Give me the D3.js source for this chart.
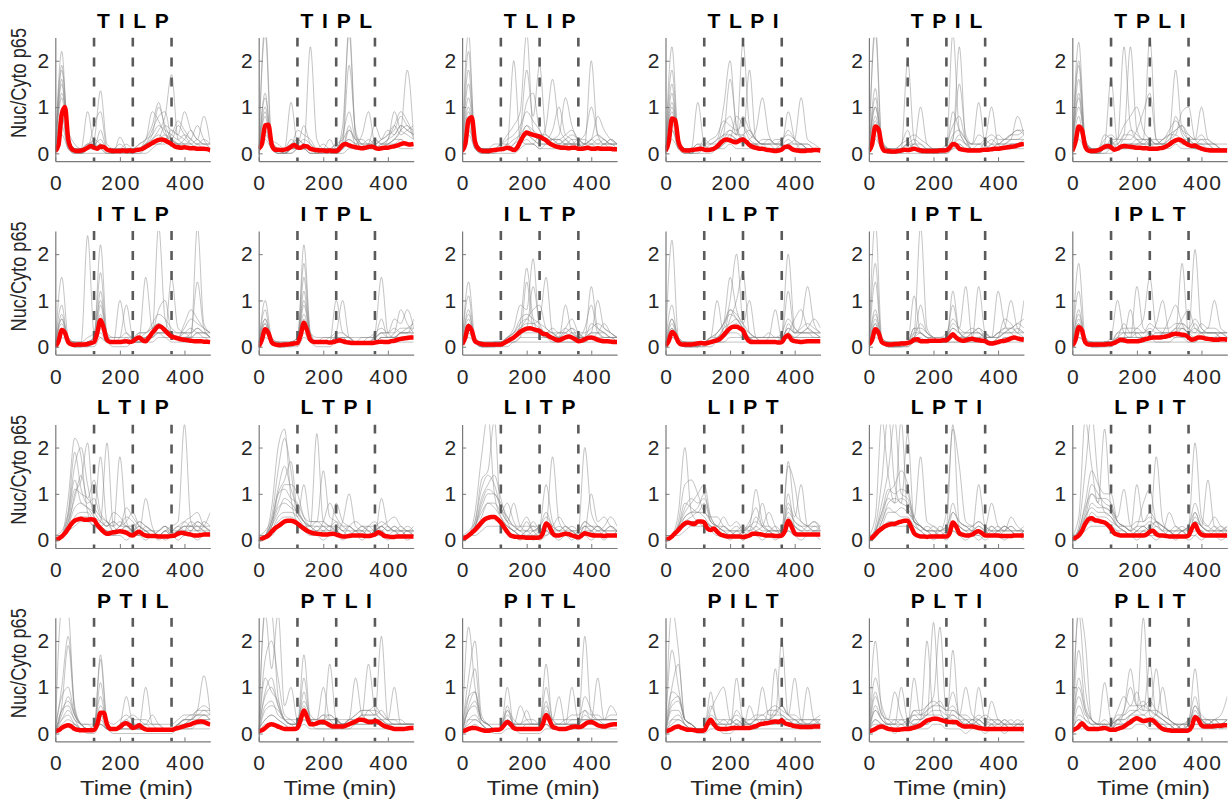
<!DOCTYPE html>
<html><head><meta charset="utf-8">
<script src="https://cdn.jsdelivr.net/npm/d3@7"></script>
<style>body{margin:0;background:#fff}svg{display:block}</style>
</head><body><svg id="chart" width="1230" height="807"></svg>
<script>
// Stimulus orders (T = TNF, I = IL-1, L = LPS, P = Pam) shown one per panel
const orders = ["TILP","TIPL","TLIP","TLPI","TPIL","TPLI",
                "ITLP","ITPL","ILTP","ILPT","IPTL","IPLT",
                "LTIP","LTPI","LITP","LIPT","LPTI","LPIT",
                "PTIL","PTLI","PITL","PILT","PLTI","PLIT"];
const stimTimes = [120, 240, 360];          // dashed lines: next ligand added
const xTicks = [0, 200, 400];
const yTicks = [0, 1, 2];
const meanStep = 10;                          // min between population-mean samples
const cellStep = 20;                          // min between single-cell samples

// Population means (red), t = 0..480 min every 10 min
const TILP_mean=[.05,.18,.85,1.0,.3,.1,.06,.05,.06,.08, .12,.16,.12,.1,.15,.14,.08,.06,.05,.05, .05,.06,.05,.06,.05,.07,.08,.1,.14,.18, .22,.26,.29,.3,.28,.24,.2,.15,.13,.12, .13,.12,.11,.11,.1,.1,.1,.09,.07];
const TIPL_mean=[.1,.2,.6,.62,.2,.08,.08,.07,.08,.1, .14,.18,.13,.12,.16,.15,.1,.08,.07,.06, .06,.05,.06,.05,.05,.1,.18,.2,.17,.15, .13,.12,.11,.12,.14,.15,.12,.1,.11,.12, .12,.14,.15,.17,.2,.22,.2,.19,.2];
const TLIP_mean=[.05,.2,.72,.78,.25,.1,.06,.05,.05,.06, .07,.08,.09,.1,.12,.1,.07,.12,.25,.38, .45,.42,.4,.38,.36,.32,.28,.22,.18,.15, .13,.12,.12,.11,.12,.12,.1,.1,.11,.12, .1,.1,.11,.1,.1,.1,.1,.09,.09];
const TLPI_mean=[.05,.25,.75,.72,.25,.1,.06,.06,.07,.08, .09,.1,.08,.07,.08,.1,.15,.22,.28,.3, .28,.25,.24,.28,.3,.25,.18,.14,.12,.1, .1,.08,.07,.06,.05,.06,.08,.14,.15,.1, .07,.06,.05,.05,.06,.06,.07,.07,.06];
const TPIL_mean=[.05,.2,.58,.52,.15,.05,.05,.04,.04,.05, .06,.08,.07,.08,.1,.08,.06,.05,.05,.05, .05,.05,.06,.06,.07,.12,.2,.18,.1,.08, .07,.06,.06,.06,.06,.07,.08,.08,.09,.1, .1,.11,.12,.13,.14,.15,.17,.19,.2];
const TPLI_mean=[.05,.25,.58,.5,.15,.06,.05,.05,.07,.1, .14,.16,.13,.08,.1,.14,.16,.15,.14,.13, .12,.12,.11,.11,.1,.1,.1,.11,.12,.15, .19,.24,.28,.3,.27,.22,.18,.16,.17,.13, .1,.08,.07,.06,.06,.06,.06,.06,.06];
const ITLP_mean=[0,.12,.36,.3,.1,.05,.04,.05,.05,.05, .06,.08,.1,.3,.58,.4,.15,.1,.1,.1, .1,.11,.12,.1,.12,.17,.2,.14,.12,.2, .3,.38,.45,.42,.35,.28,.22,.2,.18,.16, .15,.14,.13,.12,.12,.12,.11,.11,.1];
const ITPL_mean=[0,.15,.38,.3,.1,.05,.04,.04,.05,.05, .06,.07,.08,.25,.52,.35,.15,.1,.1,.1, .1,.1,.09,.1,.12,.14,.12,.1,.09,.08, .08,.08,.08,.08,.08,.08,.09,.1,.11,.1, .1,.12,.13,.15,.17,.18,.19,.2,.2];
const ILTP_mean=[.05,.2,.45,.35,.12,.08,.06,.05,.05,.05, .05,.05,.05,.08,.12,.16,.2,.26,.32,.36, .39,.4,.38,.36,.34,.28,.27,.22,.19,.15, .14,.17,.2,.22,.2,.16,.12,.13,.16,.19, .2,.18,.15,.13,.12,.12,.11,.1,.1];
const ILPT_mean=[.02,.12,.32,.25,.1,.05,.05,.05,.05,.06, .07,.08,.07,.08,.1,.12,.14,.18,.25,.33, .4,.43,.43,.4,.35,.2,.12,.1,.1,.1, .1,.1,.1,.1,.1,.09,.1,.2,.25,.15, .12,.11,.1,.11,.12,.12,.12,.12,.12];
const IPTL_mean=[.05,.15,.38,.3,.1,.06,.05,.05,.06,.06, .07,.07,.08,.1,.15,.16,.12,.12,.12,.13, .13,.13,.13,.14,.14,.2,.27,.2,.15,.13, .14,.16,.17,.15,.14,.13,.12,.08,.07,.08, .1,.12,.13,.15,.18,.2,.18,.16,.15];
const IPLT_mean=[.02,.15,.42,.35,.1,.05,.05,.05,.05,.05, .05,.06,.06,.08,.12,.15,.14,.12,.12,.12, .12,.13,.15,.17,.19,.2,.2,.2,.21,.22, .24,.27,.28,.27,.26,.25,.2,.15,.17,.2, .2,.18,.17,.16,.15,.15,.16,.16,.15];
const LTIP_mean=[.02,.03,.08,.15,.25,.35,.42,.45,.46,.44, .44,.45,.44,.33,.25,.18,.14,.15,.17,.18, .19,.18,.16,.12,.1,.15,.18,.13,.1,.09, .09,.09,.08,.08,.08,.08,.09,.1,.14,.16, .15,.13,.12,.1,.1,.11,.12,.12,.12];
const LTPI_mean=[.02,.03,.06,.1,.18,.25,.3,.35,.4,.42, .42,.4,.36,.3,.25,.2,.17,.15,.14,.13, .12,.12,.13,.14,.12,.1,.08,.08,.09,.1, .1,.1,.1,.09,.09,.1,.12,.17,.14,.09, .08,.07,.07,.08,.08,.08,.08,.08,.08];
const LITP_mean=[.02,.05,.1,.16,.22,.3,.38,.45,.48,.5, .5,.45,.38,.28,.18,.1,.08,.07,.06,.06, .05,.05,.05,.05,.06,.15,.36,.3,.15,.1, .1,.12,.14,.13,.1,.08,.06,.1,.15,.13, .11,.1,.1,.1,.09,.1,.1,.1,.1];
const LIPT_mean=[.02,.03,.08,.15,.22,.3,.36,.38,.36,.35, .4,.4,.38,.25,.22,.25,.18,.12,.1,.08, .08,.08,.08,.08,.07,.08,.1,.14,.14,.13, .12,.1,.1,.1,.09,.09,.1,.2,.42,.3, .15,.12,.12,.12,.12,.12,.12,.12,.12];
const LPTI_mean=[.02,.05,.12,.2,.25,.3,.33,.35,.35,.38, .4,.42,.42,.3,.15,.1,.08,.08,.07,.08, .08,.08,.08,.08,.08,.15,.38,.3,.15,.12, .1,.1,.12,.17,.19,.15,.1,.1,.1,.1, .1,.09,.09,.09,.09,.1,.1,.1,.1];
const LPIT_mean=[.02,.05,.1,.2,.35,.45,.47,.43,.42,.4, .38,.33,.25,.15,.12,.1,.1,.1,.1,.1, .1,.1,.1,.12,.18,.2,.13,.1,.1,.09, .08,.08,.08,.08,.08,.08,.1,.25,.35,.2, .12,.1,.1,.1,.1,.1,.1,.1,.1];
const PTIL_mean=[.05,.07,.12,.16,.18,.15,.1,.08,.07,.07, .07,.07,.08,.2,.45,.45,.2,.1,.1,.1, .14,.2,.22,.18,.12,.14,.18,.12,.09,.08, .08,.08,.08,.08,.08,.08,.08,.1,.12,.14, .16,.18,.2,.23,.25,.26,.25,.22,.19];
const PTLI_mean=[.05,.07,.12,.18,.2,.18,.15,.12,.1,.1, .1,.1,.12,.3,.5,.35,.2,.2,.22,.25, .25,.22,.18,.15,.15,.15,.15,.17,.2,.23, .26,.3,.3,.28,.25,.25,.27,.25,.2,.16, .14,.12,.1,.1,.1,.1,.11,.12,.12];
const PITL_mean=[.05,.07,.1,.12,.12,.1,.08,.06,.06,.07, .08,.08,.1,.18,.25,.2,.12,.1,.1,.1, .1,.1,.1,.1,.1,.2,.4,.3,.15,.12, .1,.1,.1,.12,.14,.15,.14,.15,.2,.24, .25,.22,.18,.16,.15,.17,.19,.2,.2];
const PILT_mean=[.05,.07,.1,.14,.15,.12,.1,.08,.08,.07, .06,.06,.07,.2,.3,.2,.12,.1,.1,.1, .11,.12,.12,.12,.12,.12,.12,.14,.16,.19, .21,.22,.23,.25,.26,.25,.28,.22,.2,.18, .16,.15,.14,.14,.14,.14,.15,.15,.15];
const PLTI_mean=[.05,.07,.1,.14,.15,.13,.1,.09,.08,.08, .09,.1,.1,.11,.13,.15,.18,.23,.28,.3, .32,.32,.3,.28,.26,.25,.25,.25,.2,.16, .15,.15,.15,.14,.12,.11,.1,.1,.1,.1, .1,.1,.1,.1,.1,.1,.1,.1,.1];
const PLIT_mean=[.07,.1,.15,.22,.15,.1,.1,.1,.1,.11, .12,.1,.08,.08,.1,.12,.15,.2,.25,.3, .33,.3,.27,.28,.3,.28,.22,.15,.1,.08, .07,.06,.06,.06,.06,.06,.07,.15,.35,.3, .18,.15,.15,.15,.16,.17,.17,.18,.18];

// Single-cell traces (grey), t = 0..480 min every 20 min
const TILP_cells=[
[0,2.2,.3,.1,0,.1,.2,.1,0,0,.1,.1,0,.1,.2,.4,1.0,.6,.3,.2,.1,.1,.2,.1,.1],
[.1,1.9,.4,.1,.1,.9,.2,.1,.1,0,.1,0,0,.1,.1,.3,.5,.8,1.7,.3,.2,.1,.1,.1,.1],
[0,1.6,.2,.1,.1,.2,.3,1.35,.2,.1,.1,.1,.1,.2,.3,.9,.7,.4,.3,.6,.4,.2,.1,.1,0],
[.1,1.2,.2,0,0,.1,.6,.9,.1,0,.35,.1,0,0,.1,.2,.3,.6,.5,.4,.9,.5,.3,.2,.2],
[0,.9,.1,.1,.1,.2,.1,.2,.1,.1,0,.1,.1,.1,.3,.6,1.1,.5,.2,.2,.3,.5,.3,.8,.2],
[.1,.6,.1,0,0,.1,.1,.1,0,0,0,0,0,.1,.1,.2,.2,.3,.4,.7,.5,.3,.2,.2,.1],
[0,1.5,.3,.1,0,.1,.1,.5,.1,.1,.1,.1,.1,.1,.2,.5,.8,.9,.3,.2,.2,.3,.6,.3,.1],
[0,.4,.1,0,0,0,0,0,0,0,0,0,0,0,0,.1,.2,.2,.3,.2,.1,.1,.1,.1,.1],
[.1,1.3,.5,.2,.1,.2,.2,.3,.1,.1,.2,.1,.1,.2,.3,.4,.6,.5,.4,.3,.4,.3,.2,.3,.2],
[0,1.8,.4,.1,.1,.1,.3,.2,.1,.1,.1,.2,.1,.1,.2,.3,.4,.3,.5,.4,.3,.2,.3,.2,.2],
[.1,.8,.2,.1,0,.1,.1,.2,.1,0,.1,.1,.1,.1,.2,.2,.3,.4,.3,.2,.2,.2,.1,.1,.1]];
const TIPL_cells=[
[0,2.8,.3,.1,0,.1,.1,.1,0,0,0,.1,0,.3,2.8,.4,.1,.1,.1,.1,.2,.3,.5,.6,.3],
[.1,2.6,.2,.1,.1,1.1,.2,.1,.1,0,0,0,0,.2,1.9,.5,.2,.2,.1,.1,.3,.6,.9,.7,.4],
[0,1.3,.2,.1,0,.1,.3,.2,2.3,.3,.1,.1,.1,.2,.3,.2,.4,.9,.2,.1,.2,.3,.5,1.8,.3],
[.1,1.0,.2,0,0,.1,.5,.4,.3,.1,.1,.1,.2,.1,.5,.3,.1,.2,.6,.3,.4,.5,.8,.6,.5],
[0,.8,.1,.1,.1,.2,.2,.6,.2,.1,.1,.3,.1,.6,2.6,.4,.2,.1,.1,.2,.3,.9,.5,.4,.3],
[.1,.6,.1,0,0,0,.1,.2,.1,.1,.1,0,0,.1,.6,.2,.2,.3,.2,.3,.5,.4,.6,.5,.4],
[0,.5,.1,0,0,.1,.1,.1,0,0,.1,.1,0,.1,.2,.1,.1,.1,.3,.2,.2,.2,.3,.2,.2],
[0,.3,.1,0,0,0,.1,.1,0,0,0,0,0,0,.1,.1,.1,.1,.1,.1,.1,.2,.1,.1,.1],
[.1,1.2,.3,.2,.1,.3,.2,.3,.2,.1,.2,.1,.1,.4,.9,.3,.2,.2,.3,.2,.3,.4,.6,.5,.4],
[0,.9,.2,.1,.1,.2,.3,.2,.1,.1,.1,.1,.2,.3,.5,.3,.3,.2,.2,.3,.4,.6,.4,.5,.6],
[.1,.4,.2,.1,0,.1,.1,.2,.1,0,.1,.1,.1,.2,.3,.2,.1,.2,.1,.2,.2,.3,.3,.2,.2]];
const TLIP_cells=[
[0,2.2,.3,.1,0,.1,.1,.2,2.0,.3,.2,.2,.1,.2,.3,.3,.4,.5,.3,.2,2.0,.4,.3,.2,.2],
[.1,2.6,.2,.1,.1,.1,.2,.4,.6,.9,2.6,.5,.3,.3,.2,.3,.2,.2,.2,.1,.2,.2,.3,.2,.2],
[0,1.5,.3,.1,0,.1,.1,.1,.2,.5,1.8,.8,1.9,.4,.3,.2,.2,.3,.3,.2,.2,.1,.2,.2,.1],
[.1,1.0,.2,0,0,0,.1,.1,.1,.3,.6,.4,.3,.6,1.6,.6,.3,.2,.2,.2,.3,.4,.3,.2,.2],
[0,.8,.1,.1,.1,.1,.1,.1,.1,.2,.4,.3,.2,.2,.3,.4,1.2,.6,.3,.4,1.0,.4,.2,.3,.2],
[.1,.6,.1,0,0,.1,.1,.1,.1,.4,1.1,1.3,.5,.3,.2,.2,.3,.2,.2,.1,.1,.1,.1,.1,.1],
[0,1.8,.2,.1,.1,.1,.1,.2,.1,.2,.3,.2,.4,.3,.5,1.0,.4,.3,.1,.2,.3,.8,.5,.3,.2],
[0,.4,.1,0,0,0,0,0,0,.1,.2,.2,.1,.1,.1,.1,.2,.2,.1,.1,.1,.1,.1,.1,.1],
[.1,1.2,.3,.1,.1,.2,.2,.3,.4,.6,.9,.7,.5,.3,.3,.2,.3,.4,.3,.2,.3,.2,.2,.3,.2],
[0,.9,.2,.1,.1,.1,.2,.2,.3,.4,.6,.5,.4,.4,.3,.3,.2,.2,.3,.3,.2,.3,.2,.2,.1],
[.1,.5,.2,.1,0,.1,.1,.1,.2,.3,.4,.3,.2,.2,.2,.1,.2,.1,.1,.2,.1,.1,.2,.1,.1]];
const TLPI_cells=[
[0,2.3,.3,.1,0,.1,.1,.1,.1,.4,1.6,.6,.3,.2,.2,.2,.1,.1,.2,.1,.1,.1,.1,.1,.1],
[.1,1.8,.3,.1,.1,1.1,.2,.1,.1,.3,.5,.4,2.4,.6,.3,.2,.2,.1,.1,.2,.2,.2,.1,.1,.1],
[0,1.3,.2,.1,0,.1,.1,.2,.3,1.0,2.0,.5,.3,1.8,.3,.2,.2,.2,.2,.1,.1,.1,.1,.1,.1],
[.1,1.0,.2,0,0,.1,.1,.1,.1,.2,.4,.3,.2,.3,.5,1.2,.4,.2,.2,.9,.3,.1,.1,.1,.1],
[0,.7,.1,.1,.1,.2,.1,.1,.2,.6,.8,.4,.4,.2,.2,.3,.3,.2,.1,.2,.3,1.2,.3,.2,.1],
[.1,.5,.1,0,0,0,.1,.1,.1,.2,.3,.8,.6,.3,.2,.1,.1,.1,.1,.1,.1,.2,.2,.1,.1],
[0,1.5,.2,.1,.1,.1,.3,.2,.2,.4,.4,.3,.4,.5,.3,.2,.2,.3,.3,.5,.3,.2,.1,.1,0],
[0,.3,.1,0,0,0,0,0,.1,.1,.2,.1,.1,.1,.1,.1,.1,.1,.1,.1,.1,.1,.1,.1,.1],
[.1,1.1,.3,.1,.1,.2,.2,.3,.4,.7,.6,.5,.6,.4,.3,.2,.2,.2,.3,.4,.3,.2,.2,.1,.1],
[0,.9,.2,.1,.1,.1,.2,.2,.3,.4,.5,.4,.8,.5,.3,.2,.3,.2,.2,.3,.2,.2,.1,.1,.1],
[.1,.5,.2,.1,0,.1,.1,.1,.2,.3,.3,.3,.3,.2,.2,.1,.1,.1,.1,.2,.1,.1,.1,.1,.1]];
const TPIL_cells=[
[0,2.8,.3,.1,0,.1,.2,.1,0,0,.1,.1,.1,.3,2.3,.3,.1,.1,.1,.2,.1,.1,.1,.2,.3],
[.1,2.6,.2,.1,.1,.1,2.0,.3,.1,0,0,0,.1,2.6,.5,.2,.1,.1,.3,1.0,.2,.1,.2,.2,.2],
[0,1.4,.2,.1,0,.1,.2,.2,1.0,.2,.1,.1,.1,.3,1.5,.4,.2,1.1,.2,.1,.1,.2,.3,.8,.4],
[.1,1.0,.2,0,0,.1,.1,.2,.2,.1,.1,.1,.1,.2,.4,.2,.1,.2,.1,.2,.4,.3,.4,.5,.5],
[0,.7,.1,.1,.1,.2,.5,.1,.1,.1,0,.1,.1,.9,.5,.3,.1,.1,.1,.1,.2,.2,.3,.3,.3],
[.1,.5,.1,0,0,0,.1,.1,.1,0,0,0,0,.1,.2,.1,.1,.1,.1,.1,.1,.1,.2,.2,.2],
[0,1.2,.2,0,0,.1,.1,.2,.1,.1,.1,.1,.1,.2,.3,.2,.2,.4,.3,.2,.2,.3,.4,.4,.5],
[0,.3,.1,0,0,0,0,0,0,0,0,0,0,.1,.1,.1,.1,.1,.1,.1,.1,.1,.1,.1,.1],
[.1,1.0,.3,.1,.1,.2,.3,.4,.3,.2,.1,.1,.2,.6,.8,.3,.2,.2,.3,.4,.3,.3,.4,.5,.4],
[0,.8,.2,.1,.1,.1,.2,.3,.2,.1,.1,.1,.1,.4,.5,.3,.2,.2,.2,.3,.2,.3,.3,.3,.4],
[.1,.4,.1,.1,0,.1,.1,.1,.1,.1,0,.1,.1,.2,.2,.1,.1,.1,.1,.1,.2,.2,.2,.2,.2]];
const TPLI_cells=[
[0,2.4,.3,.1,0,.2,1.6,.2,.1,.1,.2,.3,2.5,.3,.2,.2,.3,.3,.2,.1,.1,.1,.1,.1,.1],
[.1,2.0,.3,.1,.1,.1,.3,.3,2.3,.6,.3,.2,.2,.2,.3,.4,1.8,.5,.3,.2,.2,.1,.1,.1,.1],
[0,1.6,.2,.1,0,.1,.1,.2,.4,2.3,.5,.3,.3,.2,.2,.3,.4,.9,1.0,.3,.2,.2,.1,.1,.1],
[.1,1.2,.2,0,0,.1,.2,.3,.6,.8,1.0,.5,.3,.2,.2,.4,.5,.6,.4,.3,1.0,.3,.2,.1,.1],
[0,.8,.1,.1,.1,.4,.3,.1,.3,.3,.5,.9,1.3,.3,.2,.2,.3,.3,.2,.2,.3,.3,.2,.2,.2],
[.1,.5,.1,0,0,0,.1,.1,.2,.2,.3,.2,.2,.1,.1,.2,.8,.4,.2,.1,.1,.1,.1,.1,.1],
[0,1.9,.2,.1,.1,.1,.1,.1,.1,.2,.2,.2,.3,.2,.3,.4,.4,.3,.3,.2,.2,.2,.2,.1,.1],
[0,.3,.1,0,0,0,0,.1,.1,.1,.1,.1,.1,.1,.1,.1,.2,.1,.1,.1,.1,.1,.1,.1,.1],
[.1,1.0,.3,.1,.1,.3,.4,.3,.3,.5,.4,.3,.3,.3,.3,.5,.7,.5,.4,.3,.3,.2,.2,.1,.1],
[0,1.3,.2,.1,.1,.2,.2,.2,.4,.4,.3,.3,.2,.2,.2,.3,.5,.6,.3,.3,.4,.2,.1,.1,.1],
[.1,.5,.2,.1,0,.1,.1,.1,.2,.2,.2,.2,.1,.1,.1,.2,.3,.2,.2,.1,.1,.1,.1,.1,.1]];
const ITLP_cells=[
[0,1.5,.2,.1,.1,2.4,.3,.2,.1,.1,.1,.1,.1,.1,.2,.3,2.6,.6,.3,.2,.2,.2,.3,.3,.2],
[.1,.9,.1,.1,.1,.1,.2,2.2,.3,.1,.1,.1,.1,.2,1.5,.4,.3,.3,1.5,.4,.3,.3,.4,.3,.2],
[0,.7,.1,0,0,.1,.2,1.6,.2,.1,.2,.9,.2,.1,.2,.3,.8,1.0,.3,.2,.2,.3,1.4,.4,.2],
[.1,.5,.1,0,0,.1,.1,1.2,.2,.1,.1,.2,.1,.3,.3,.4,.5,.4,.3,.2,.4,.6,.5,.4,.3],
[0,.4,.1,.1,0,.1,.1,.5,.1,.1,1.0,.3,.2,.2,.2,.2,.4,.4,.3,.3,.3,.2,2.6,.5,.3],
[.1,.3,.1,0,0,0,.1,.3,.1,.1,.1,.1,.1,.1,.1,.2,.3,.3,.2,.2,.5,.8,.6,.4,.3],
[0,.6,.1,0,0,.1,.1,.9,.2,.1,.1,.1,.2,.2,.2,.2,.3,.3,.2,.2,.2,.2,.3,.2,.2],
[0,.2,.1,0,0,0,0,.2,.1,0,0,0,.1,.1,.1,.1,.2,.2,.1,.1,.1,.1,.1,.1,.1],
[.1,.6,.2,.1,.1,.2,.3,1.0,.3,.2,.2,.2,.2,.3,.3,.5,.7,.6,.4,.3,.3,.3,.4,.3,.3],
[0,.4,.1,.1,0,.1,.2,.7,.2,.2,.2,.3,.2,.2,.3,.4,.5,.4,.3,.2,.3,.4,.3,.3,.2],
[.1,.3,.1,0,0,.1,.1,.4,.1,.1,.1,.1,.1,.1,.2,.3,.3,.2,.2,.2,.2,.2,.2,.2,.1]];
const ITPL_cells=[
[0,1.0,.2,.1,.1,.1,.1,2.2,.3,.1,.1,.1,.2,.1,.1,.1,.1,.1,.2,.3,.2,.2,.3,.3,.4],
[.1,.8,.1,.1,.1,.1,.2,1.8,.3,.1,.1,.1,.3,1.0,.2,.1,.1,.1,.3,1.5,.3,.2,.3,.4,.5],
[0,.6,.1,0,0,.1,.1,1.5,.2,.1,.1,.1,1.0,.3,.2,.1,.1,.1,.1,.2,.2,.3,.8,.5,.3],
[.1,.5,.1,0,0,.1,.1,1.2,.2,.1,.1,.1,.1,.2,.1,.1,.1,.2,.2,.3,.3,.6,.5,.8,.4],
[0,.4,.1,.1,0,.1,.1,.6,.1,.1,.2,.2,.1,.2,.2,.1,.1,.1,.1,.2,.2,.2,.3,.3,.6],
[.1,.3,.1,0,0,0,.1,.3,.1,.1,.1,.1,.1,.1,.1,.1,.1,.1,.1,.2,.2,.2,.2,.2,.3],
[0,.5,.1,0,0,.1,.1,.9,.2,.1,.1,.1,.2,.2,.1,.1,.1,.1,.2,.6,.2,.2,.3,.3,.3],
[0,.2,.1,0,0,0,0,.2,.1,0,0,0,.1,.1,.1,.1,.1,.1,.1,.1,.1,.1,.1,.1,.1],
[.1,.6,.2,.1,.1,.1,.2,1.0,.3,.2,.2,.2,.3,.3,.2,.2,.2,.2,.3,.4,.3,.3,.4,.4,.4],
[0,.4,.1,.1,0,.1,.2,.7,.2,.1,.1,.2,.2,.2,.2,.1,.2,.2,.2,.3,.3,.4,.3,.3,.3],
[.1,.3,.1,0,0,.1,.1,.4,.1,.1,.1,.1,.1,.1,.1,.1,.1,.1,.1,.2,.2,.2,.2,.2,.2]];
const ILTP_cells=[
[0,1.4,.2,.1,.1,.1,.1,.1,.2,.5,1.7,.6,.3,.2,.2,.2,.3,.4,.3,.2,1.3,.4,.3,.2,.2],
[.1,1.1,.1,.1,.1,.1,.1,.2,.4,.9,.8,1.9,.4,.3,.2,.2,.9,.3,.2,.2,.3,1.0,.4,.3,.2],
[0,.8,.1,0,0,0,.1,.2,.3,.5,.6,.5,.6,1.5,.3,.2,.2,.3,.2,.2,.3,.3,.3,.2,.2],
[.1,.5,.1,0,0,.1,.1,.1,.2,.3,.4,1.3,.5,.3,.3,.2,.4,.6,.3,.2,.5,.4,.3,.2,.2],
[0,.4,.1,.1,0,.1,.1,.1,.1,.2,1.4,.4,.3,.2,.2,.3,.3,.2,.2,.4,.9,.3,.2,.2,.1],
[.1,.3,.1,0,0,0,0,.1,.1,.2,.2,.2,.2,.2,.1,.1,.1,.1,.1,.1,.2,.2,.2,.2,.1],
[0,.6,.1,0,0,0,.1,.1,.2,.4,.6,.8,.9,.4,.3,.2,.2,.2,.2,.2,.2,.3,.5,.3,.2],
[0,.2,.1,0,0,0,0,0,.1,.1,.1,.1,.1,.1,.1,.1,.1,.1,.1,.1,.1,.1,.1,.1,.1],
[.1,.7,.2,.1,.1,.1,.1,.2,.3,.6,.7,.6,.5,.4,.3,.3,.4,.3,.3,.3,.4,.5,.4,.3,.2],
[0,.5,.1,.1,0,.1,.1,.2,.3,.4,.5,.5,.4,.3,.4,.3,.3,.4,.2,.2,.3,.3,.2,.2,.2],
[.1,.3,.1,0,0,0,.1,.1,.2,.3,.3,.3,.3,.2,.2,.2,.2,.2,.1,.2,.2,.2,.1,.1,.1]];
const ILPT_cells=[
[0,2.3,.2,.1,.1,.1,.1,.1,.2,.4,1.0,2.0,.5,.2,.1,.1,.1,.1,.3,2.0,.4,.3,.3,.3,.3],
[.1,.9,.1,.1,.1,.1,.1,.2,1.0,.3,.6,1.0,1.6,.3,.2,.1,.1,.1,.2,1.2,.3,.5,1.3,.5,.3],
[0,.6,.1,0,0,0,.1,.1,.3,.5,1.5,.8,.5,1.0,.2,.1,.2,.8,.2,.3,.2,.3,.4,.6,.4],
[.1,.4,.1,0,0,.1,.1,.1,.2,.3,.4,.5,.3,.2,.1,.1,.1,.1,.1,.5,.3,.4,.5,.4,.3],
[0,.3,.1,.1,0,.1,.1,.1,.1,.2,.8,.6,.4,.2,.2,.2,.3,.2,.2,.3,.6,.8,.4,.3,.2],
[.1,.2,.1,0,0,0,0,.1,.1,.1,.2,.2,.2,.1,.1,.1,.1,.1,.1,.2,.2,.2,.2,.2,.2],
[0,.5,.1,0,0,0,.1,.2,.3,.5,.7,.6,.4,.3,.2,.2,.2,.2,.2,.4,.3,.3,.3,.2,.2],
[0,.2,.1,0,0,0,0,0,.1,.1,.1,.1,.1,.1,.1,.1,.1,.1,.1,.2,.1,.1,.1,.1,.1],
[.1,.6,.2,.1,.1,.1,.1,.2,.3,.5,.8,.7,.5,.3,.2,.2,.2,.2,.3,.6,.4,.3,.4,.3,.2],
[0,.4,.1,.1,0,.1,.1,.2,.2,.4,.5,.6,.4,.2,.2,.2,.2,.2,.2,.4,.3,.3,.3,.3,.3],
[.1,.3,.1,0,0,0,.1,.1,.2,.2,.3,.3,.2,.2,.1,.1,.1,.1,.1,.3,.2,.2,.2,.2,.2]];
const IPTL_cells=[
[0,2.7,.2,.1,.1,.1,.1,.3,2.6,.4,.2,.1,.1,1.2,.3,.2,.2,1.3,.3,.2,.2,.3,.4,.3,.2],
[.1,1.8,.1,.1,.1,.1,.1,1.1,.3,.2,.1,.1,.2,.5,.4,1.3,.2,.2,.2,.2,1.2,.5,.3,.2,.2],
[0,1.4,.1,0,0,0,.1,.2,.9,.3,.2,.1,.1,.3,.2,.3,.4,.3,.2,.2,.3,.4,1.0,.4,.3],
[.1,.8,.1,0,0,.1,.1,.2,.3,.2,.2,.1,.2,.9,.3,.2,.2,.2,.3,.2,.2,.3,.4,.5,.6],
[0,.5,.1,.1,0,.1,.1,.4,.3,.2,.1,.1,.1,.2,.2,.2,.3,.4,.2,.1,.2,.6,.5,.3,1.0],
[.1,.3,.1,0,0,0,0,.1,.1,.1,.1,.1,.1,.1,.1,.1,.1,.1,.1,.1,.1,.2,.2,.2,.2],
[0,.6,.1,0,0,0,.1,.2,.5,.3,.2,.1,.2,.4,.3,.2,.3,.3,.2,.2,.3,.3,.3,.3,.3],
[0,.2,.1,0,0,0,0,.1,.1,.1,.1,.1,.1,.1,.1,.1,.1,.1,.1,.1,.1,.1,.1,.1,.1],
[.1,.7,.2,.1,.1,.1,.1,.4,.4,.3,.2,.2,.3,.6,.4,.3,.3,.4,.3,.2,.3,.4,.4,.5,.4],
[0,.5,.1,.1,0,.1,.1,.3,.3,.2,.2,.2,.2,.4,.3,.3,.3,.3,.2,.1,.2,.3,.3,.4,.3],
[.1,.3,.1,0,0,0,.1,.2,.2,.1,.1,.1,.1,.2,.2,.2,.2,.2,.1,.1,.1,.2,.2,.2,.2]];
const IPLT_cells=[
[0,1.8,.2,.1,.1,.1,.2,1.0,.3,.2,1.3,.4,.3,.2,.2,.2,.3,1.8,.3,2.1,.4,.3,.3,.3,.2],
[.1,1.2,.1,.1,.1,.1,.1,.3,.3,.3,.4,.6,1.5,.4,.3,.2,.3,.5,.4,.3,.5,.4,1.0,.4,.3],
[0,.8,.1,0,0,.1,.1,.2,.5,.3,.3,.3,.3,.5,1.0,.3,.2,.4,.3,.2,.3,.3,.3,.3,.3],
[.1,.5,.1,0,0,.1,.1,.1,.2,.8,.2,.2,.2,.2,.3,.6,.9,.5,.3,.3,.3,.4,.4,.3,.2],
[0,.4,.1,.1,0,.1,.1,.1,.2,.2,.3,.2,.2,.3,.3,.3,.4,.6,.8,.4,.3,.2,.2,.3,.3],
[.1,.2,.1,0,0,0,0,.1,.1,.1,.1,.1,.2,.1,.1,.1,.2,.2,.1,.1,.2,.2,.2,.2,.1],
[0,.6,.1,0,0,.1,.1,.2,.2,.2,.2,.2,.3,.2,.3,.3,.3,.4,.3,.5,.3,.3,.3,.2,.2],
[0,.2,.1,0,0,0,0,.1,.1,.1,.1,.1,.1,.1,.1,.1,.1,.1,.1,.1,.1,.1,.1,.1,.1],
[.1,.7,.2,.1,.1,.1,.1,.3,.4,.4,.4,.3,.5,.4,.4,.4,.5,.5,.4,.6,.4,.3,.3,.3,.3],
[0,.5,.1,.1,0,.1,.1,.2,.3,.3,.3,.3,.4,.3,.3,.3,.4,.4,.3,.4,.3,.3,.3,.2,.2],
[.1,.3,.1,0,0,0,.1,.1,.2,.2,.2,.2,.2,.2,.2,.2,.3,.2,.2,.2,.2,.2,.2,.2,.2]];
const LTIP_cells=[
[0,.1,.9,2.2,1.8,.6,.3,.4,2.1,.3,.2,.3,.2,.1,.3,.2,.1,.2,.3,.4,2.5,.4,.2,.3,.6],
[.1,.2,.6,1.6,2.0,1.2,.6,1.8,.4,.3,1.8,.4,.2,.3,.2,.1,.2,.3,.2,.1,.2,.4,.3,.2,.1],
[0,.1,.3,1.0,1.3,2.1,.5,.3,.4,.2,.3,.5,.4,.2,.9,.3,.1,.2,.1,.2,.3,.2,.4,.3,.2],
[.1,.1,.4,.9,1.4,.9,1.3,.6,.4,.2,.3,.4,.6,.3,.2,.1,.2,.3,.1,.2,.4,.5,.6,.3,.2],
[0,.1,.5,1.3,.8,.7,.5,.4,.3,.6,.5,.3,.2,.4,.3,.2,.1,.1,.2,.3,.2,.3,.2,.4,.3],
[.1,.1,.2,.5,.6,.6,.4,.3,.2,.1,.2,.3,.2,.1,.2,.1,.1,0,.1,.2,.1,.2,.3,.2,.1],
[0,.1,.6,1.9,1.1,.8,.9,.5,.3,.4,.3,.7,.5,.3,.2,.1,.1,.2,.1,.2,.3,.3,.2,.1,.2],
[0,.1,.2,.3,.4,.4,.3,.2,.1,.1,.1,0,.1,.1,0,.1,0,.1,.1,0,.1,.1,0,.1,.1],
[0,.1,.4,1.1,1.0,.9,.7,.5,.4,.3,.4,.3,.3,.4,.3,.2,.2,.3,.2,.3,.4,.3,.4,.3,.2],
[.1,.1,.3,.7,.8,.7,.6,.4,.3,.4,.3,.3,.2,.3,.2,.2,.1,.2,.2,.2,.3,.3,.3,.3,.3],
[0,.1,.2,.4,.5,.5,.4,.3,.2,.2,.2,.2,.2,.2,.1,.1,.1,.1,.1,.2,.2,.2,.2,.2,.2]];
const LTPI_cells=[
[0,.1,.7,2.0,2.4,.9,.4,.3,.3,2.3,.4,.3,.2,.4,1.0,.3,.2,.1,.2,.3,.2,.3,.2,.1,.2],
[.1,.2,.5,1.5,2.2,1.5,.5,1.2,.4,.4,1.5,.5,.4,.2,.3,.2,.3,.2,.1,.9,.3,.2,.1,.2,.2],
[0,.1,.3,1.0,1.3,1.7,.6,.4,.3,.2,.4,.8,.5,.3,.2,.1,.2,.3,.2,.3,.4,.5,.3,.2,.1],
[.1,.1,.4,.8,1.2,1.2,1.0,.5,.3,.2,.3,.2,.8,.4,.3,.2,.1,.3,.4,.2,.3,.2,.3,.2,.3],
[0,.1,.3,.6,.9,.8,.6,.4,.2,.3,.2,.3,.2,.1,.3,.4,.3,.2,.1,.2,.1,.2,.1,.2,.1],
[.1,.1,.2,.5,.6,.6,.5,.3,.2,.1,.2,.1,.2,.1,.1,.2,.1,.1,.2,.1,.1,.1,.2,.1,.1],
[0,.1,.4,1.1,1.6,1.1,.7,.4,.3,.4,.3,.2,.3,.2,.1,.2,.2,.1,.2,.3,.2,.3,.2,.3,.2],
[0,.1,.1,.3,.4,.4,.3,.2,.1,.1,0,.1,.1,0,.1,.1,0,.1,.1,.1,0,.1,.1,0,.1],
[0,.1,.4,1.0,1.1,.9,.8,.5,.4,.4,.4,.3,.4,.3,.3,.2,.3,.3,.3,.4,.3,.2,.2,.2,.2],
[.1,.1,.3,.7,.8,.7,.6,.4,.3,.3,.3,.3,.3,.2,.2,.2,.2,.2,.2,.3,.2,.2,.2,.2,.2],
[0,.1,.2,.4,.5,.5,.4,.3,.2,.2,.2,.2,.2,.1,.1,.1,.1,.1,.1,.2,.1,.1,.1,.1,.1]];
const LITP_cells=[
[0,.1,.6,1.8,2.7,1.0,.5,.3,.2,.1,.2,.3,.2,.3,1.8,.4,.2,.1,.2,2.0,.6,.3,.2,.3,.2],
[.1,.2,.4,1.3,1.5,2.6,.6,.8,.4,.2,.4,.2,.3,1.2,.4,.2,.3,.2,.1,.2,1.0,.4,.5,.3,.2],
[0,.1,.3,.9,1.2,1.4,.9,.4,.2,.3,.5,.2,.1,.2,.3,.5,.3,.2,.1,.3,.2,.1,.2,.3,.2],
[.1,.1,.3,.7,1.0,1.0,.7,.4,.8,.3,.2,.4,.2,.1,.2,.3,.2,.1,.2,.4,.3,.2,.3,.5,.3],
[0,.1,.2,.5,.8,.7,.5,.3,.2,.1,.2,.1,.2,.3,.2,.1,.2,.3,.2,.1,.2,.3,.2,.1,.2],
[.1,.1,.2,.4,.5,.5,.4,.3,.2,.1,.1,.1,0,.1,.2,.1,.1,.1,0,.1,.1,.2,.1,.1,.1],
[0,.1,.4,1.1,1.4,1.2,.7,.5,.3,.2,.1,.2,.3,.6,.3,.2,.1,.2,.1,.3,.2,.3,.2,.1,.2],
[0,.1,.1,.2,.3,.3,.3,.2,.1,0,.1,0,.1,.2,.1,0,.1,0,.1,.1,0,.1,0,.1,.1],
[0,.1,.3,.8,1.1,1.0,.8,.5,.3,.3,.3,.3,.3,.5,.3,.2,.3,.2,.2,.4,.3,.3,.2,.2,.2],
[.1,.1,.3,.6,.8,.8,.6,.4,.3,.2,.2,.2,.2,.4,.2,.2,.2,.2,.2,.3,.3,.2,.2,.2,.2],
[0,.1,.2,.3,.5,.5,.4,.3,.2,.1,.1,.1,.1,.2,.1,.1,.1,.1,.1,.2,.2,.1,.1,.1,.1]];
const LIPT_cells=[
[0,.1,.6,2.0,.6,.4,.3,.3,.2,.1,.2,.3,.2,.3,1.1,.4,.2,.1,.2,1.7,.6,.4,.3,.2,.3],
[.1,.1,.4,1.2,1.3,1.0,.6,.5,.5,.3,.2,.1,.2,.4,.7,.3,.2,.3,.2,1.6,1.2,.4,.3,.2,.2],
[0,.1,.3,.6,.8,1.0,1.2,.5,.3,.2,.1,.2,.3,.2,.3,.8,.3,.2,.2,.8,.5,1.2,.3,.4,.2],
[.1,.1,.2,.5,.6,.7,1.0,.4,.3,.5,.3,.4,.2,.1,.2,.3,.6,.3,.1,1.0,.3,.2,.3,.4,.3],
[0,.1,.2,.4,.5,.6,.5,.3,.2,.3,.2,.1,.2,.3,.2,.1,.2,.2,.1,.4,.3,.2,.1,.2,.2],
[.1,.1,.2,.3,.4,.4,.4,.3,.2,.1,.1,.1,0,.1,.1,.1,.2,.1,.1,.2,.1,.1,.1,.1,.1],
[0,.1,.3,.8,.7,.6,.8,.4,.3,.2,.1,.2,.1,.2,.5,.3,.2,.1,.2,.6,.4,.3,.2,.3,.3],
[0,.1,.1,.2,.3,.3,.3,.2,.1,.1,0,.1,0,.1,.1,0,.1,0,.1,.2,.1,0,.1,.1,0],
[0,.1,.3,.7,.9,.8,.9,.5,.3,.3,.2,.2,.2,.3,.4,.3,.3,.2,.2,.7,.4,.3,.3,.3,.2],
[.1,.1,.3,.5,.6,.6,.6,.4,.3,.2,.2,.2,.2,.2,.3,.2,.2,.2,.2,.5,.3,.2,.2,.2,.2],
[0,.1,.2,.3,.4,.4,.4,.3,.2,.1,.1,.1,.1,.1,.2,.1,.1,.1,.1,.3,.2,.1,.1,.1,.1]];
const LPTI_cells=[
[0,.3,1.3,2.7,1.2,.8,2.3,.4,.3,.2,.1,.2,.3,2.5,.4,.3,.2,.1,.2,.3,.2,.3,.2,.1,.2],
[.1,.5,2.6,1.4,.8,2.6,.6,.5,1.8,.4,.3,.2,.6,2.4,1.6,.4,.3,.2,.1,.2,.3,.2,.3,.2,.3],
[0,.2,.8,1.5,2.6,1.0,.9,.4,.3,.2,.3,.2,.1,.6,.4,.3,.2,1.2,.3,.2,.1,.2,.3,.2,.2],
[.1,.2,.5,1.0,1.2,1.5,1.2,.4,.3,.2,.1,.3,.2,.4,.3,.2,.3,.4,.3,.8,.3,.2,.5,.3,.2],
[0,.1,.4,.8,.9,.8,.7,.4,.2,.3,.2,.1,.2,.3,.2,.1,.2,.3,.2,.1,.2,.3,.2,.1,.2],
[.1,.1,.3,.6,.6,.5,.5,.3,.2,.1,.1,.1,.1,.2,.1,.1,.1,0,.1,.1,.2,.1,.1,.1,.1],
[0,.2,.6,1.1,1.0,1.1,1.0,.5,.3,.2,.2,.1,.2,.8,.3,.2,.1,.2,.1,.3,.2,.3,.2,.1,.2],
[0,.1,.2,.3,.3,.3,.3,.2,.1,.1,0,.1,0,.2,.1,0,.1,.1,0,.1,.1,0,.1,.1,0],
[0,.2,.6,.9,.8,.9,.8,.5,.3,.2,.2,.2,.3,.6,.4,.3,.3,.4,.3,.2,.2,.2,.2,.2,.2],
[.1,.1,.4,.7,.6,.7,.6,.4,.3,.2,.2,.2,.2,.4,.3,.2,.2,.3,.2,.2,.2,.2,.2,.2,.2],
[0,.1,.2,.4,.4,.4,.4,.3,.2,.1,.1,.1,.1,.3,.2,.1,.1,.2,.1,.1,.1,.1,.1,.1,.1]];
const LPIT_cells=[
[0,.3,1.5,2.7,1.3,.6,.5,.3,.2,.1,.2,.3,.2,1.8,.4,.2,.1,.2,.3,2.1,.5,.3,.2,.1,.2],
[.1,.5,2.6,1.6,.8,2.4,.7,.5,1.1,.3,.2,.1,.2,.4,.3,.2,.3,.2,.1,.6,.3,1.3,.3,.2,.3],
[0,.2,.8,1.5,1.2,1.0,1.0,.4,.3,.2,1.2,.4,.6,.4,.2,.6,.3,.2,.1,.4,.3,.2,.1,.2,.3],
[.1,.2,.5,1.0,.9,.9,.8,.4,.3,.2,.3,.8,1.1,.4,.3,.2,.1,.2,.3,.8,.4,.3,.5,.3,.2],
[0,.1,.4,.8,.7,.7,.6,.3,.2,.1,.2,.3,.2,.3,.2,.1,.2,.3,.2,.3,.2,.1,.2,.3,.2],
[.1,.1,.3,.6,.5,.5,.4,.3,.2,.1,.1,.2,.1,.1,.1,.2,.1,.1,0,.1,.2,.1,.1,.1,.1],
[0,.2,.6,1.2,1.0,.8,.7,.4,.3,.2,.1,.2,.3,.4,.3,.2,.1,.2,.1,.5,.3,.2,.3,.2,.1],
[0,.1,.2,.3,.3,.3,.3,.2,.1,.1,0,.1,.1,0,.1,.1,0,.1,.1,.1,0,.1,.1,0,.1],
[0,.2,.7,1.0,.8,.7,.6,.4,.3,.3,.4,.4,.5,.4,.3,.2,.2,.2,.3,.6,.3,.2,.2,.2,.2],
[.1,.1,.5,.7,.6,.6,.5,.3,.3,.2,.3,.3,.4,.3,.2,.2,.2,.2,.2,.4,.3,.2,.2,.2,.2],
[0,.1,.3,.4,.4,.4,.3,.2,.2,.1,.2,.2,.2,.2,.1,.1,.1,.1,.1,.2,.2,.1,.1,.1,.1]];
const PTIL_cells=[
[0,2.7,2.6,.5,.2,.1,.1,.2,.1,.1,.2,.8,.2,.1,.2,.1,.1,.1,.1,.2,.3,.3,.5,1.25,.4],
[.1,1.0,2.1,.6,.2,.1,.1,1.7,.3,.1,.1,.2,.2,.2,1.0,.2,.1,.1,.1,.1,.2,.3,.5,.5,.5],
[0,.6,1.9,.5,.2,.2,.1,1.6,.2,.1,.1,.1,.1,.1,.1,.1,.1,.1,.1,.2,.3,.4,.4,.5,.4],
[.1,.4,.8,.4,.2,.1,.2,.8,.2,.1,.2,.3,.4,.3,.2,.4,.2,.1,.1,.2,.2,.2,.3,.4,.3],
[0,.3,.5,.3,.1,.1,.1,.4,.1,.1,.1,.1,.1,.1,.1,.1,.1,.1,.1,.1,.2,.3,.3,.3,.3],
[.1,.2,.3,.2,.1,.1,.1,.2,.1,.1,.1,.1,.1,.1,.1,.1,.1,.1,.1,.1,.1,.1,.2,.2,.2],
[0,.5,.7,.4,.2,.1,.1,1.1,.2,.1,.1,.2,.1,.1,.1,.1,.1,.1,.1,.2,.3,.3,.4,.4,.3],
[0,.1,.2,.2,.1,0,0,.2,.1,0,0,0,0,0,0,0,0,0,0,.1,.1,.1,.1,.1,.1],
[.1,.8,1.0,.4,.2,.2,.2,.6,.3,.2,.3,.4,.3,.3,.3,.2,.2,.2,.2,.3,.4,.4,.5,.6,.5],
[0,.5,.6,.3,.2,.1,.1,.4,.2,.1,.2,.3,.2,.2,.2,.2,.2,.1,.1,.2,.3,.3,.4,.4,.4],
[.1,.3,.4,.2,.1,.1,.1,.3,.1,.1,.1,.2,.1,.1,.1,.1,.1,.1,.1,.1,.2,.2,.3,.3,.3]];
const PTLI_cells=[
[0,2.7,2.6,.8,.3,.2,.2,1.7,.3,.2,.2,1.5,.3,.2,.2,.3,.3,.5,.4,2.1,.3,.2,.2,.2,.2],
[.1,2.6,1.4,2.6,.6,1.0,.3,.4,.3,.3,1.0,.3,.2,.2,.3,1.2,.4,.3,.3,.3,.3,1.0,.2,.2,.2],
[0,1.6,2.0,1.2,.4,.3,.2,1.2,.3,.2,.3,.4,.3,.2,.2,.3,.4,1.5,.5,.3,.2,.2,.2,.2,.2],
[.1,.8,1.0,.6,.3,.2,.2,.6,.3,.2,.3,.3,.3,.2,.3,.4,.5,.5,.6,.4,.3,.3,.2,.2,.2],
[0,.5,.6,.5,.3,.2,.1,.4,.2,.2,.2,.2,.2,.2,.2,.2,.3,.3,.3,.3,.2,.2,.2,.2,.2],
[.1,.3,.4,.3,.2,.1,.1,.3,.2,.1,.1,.1,.1,.1,.1,.2,.2,.2,.2,.2,.1,.1,.1,.1,.1],
[0,1.2,.9,.7,.3,.2,.2,.9,.3,.3,.4,.3,.3,.2,.3,.3,.4,.4,.4,.5,.3,.2,.2,.2,.2],
[0,.2,.2,.2,.1,.1,.1,.2,.1,.1,.1,.1,.1,.1,.1,.1,.1,.1,.1,.1,.1,.1,.1,.1,.1],
[.1,.9,1.2,.6,.3,.3,.3,.7,.4,.3,.4,.4,.3,.3,.3,.4,.5,.5,.5,.4,.3,.3,.3,.2,.2],
[0,.6,.7,.4,.3,.2,.2,.5,.3,.3,.3,.3,.3,.2,.3,.3,.4,.4,.4,.3,.2,.2,.2,.2,.2],
[.1,.3,.4,.3,.2,.1,.1,.3,.2,.2,.2,.2,.2,.1,.2,.2,.2,.2,.2,.2,.1,.1,.1,.1,.1]];
const PITL_cells=[
[0,2.3,1.0,.3,.2,.1,.1,.4,.2,.1,.2,.2,.2,1.5,.3,.2,.2,.2,.2,2.1,.4,.3,.3,.3,.3],
[.1,1.2,2.0,.4,.2,.1,.1,1.0,.2,.6,.3,.2,.2,.6,.3,.8,.2,.2,.2,.5,.3,1.2,.3,.3,.3],
[0,.8,1.4,.3,.2,.1,.1,.5,.2,.2,.5,.2,.2,1.0,.3,.2,.2,1.0,.3,.3,.3,.3,.3,.6,.4],
[.1,.5,.7,.3,.2,.1,.1,.3,.2,.2,.2,.2,.2,.4,.2,.2,.3,.3,.3,.8,.5,.3,.3,.3,.3],
[0,.3,.4,.2,.1,.1,.1,.2,.1,.1,.1,.1,.1,.2,.1,.1,.1,.1,.2,.3,.3,.3,.2,.2,.2],
[.1,.2,.3,.2,.1,.1,.1,.2,.1,.1,.1,.1,.1,.2,.1,.1,.1,.1,.1,.2,.2,.2,.2,.2,.2],
[0,.6,.9,.3,.2,.1,.1,.6,.2,.2,.2,.2,.2,.7,.2,.2,.2,.2,.2,.4,.3,.3,.3,.3,.3],
[0,.1,.2,.1,.1,0,0,.1,.1,0,0,0,0,.1,.1,.1,.1,.1,.1,.1,.1,.1,.1,.1,.1],
[.1,.8,.9,.3,.2,.2,.2,.5,.3,.2,.3,.3,.2,.5,.3,.3,.3,.4,.4,.5,.4,.4,.3,.4,.4],
[0,.5,.6,.2,.1,.1,.1,.3,.2,.2,.2,.2,.2,.4,.2,.2,.2,.3,.3,.3,.3,.3,.3,.3,.3],
[.1,.3,.3,.2,.1,.1,.1,.2,.1,.1,.1,.1,.1,.2,.1,.1,.1,.2,.2,.2,.2,.2,.2,.2,.2]];
const PILT_cells=[
[0,2.7,1.8,.3,.2,.1,.1,.9,.2,.2,.1,1.2,.3,.2,.1,.3,.2,1.4,.3,.2,.3,.2,.1,.2,.3],
[.1,1.8,1.0,.3,.2,.1,.1,.5,.8,1.0,.3,.2,.1,.6,.3,1.0,.4,.4,2.0,.4,1.2,.3,.2,.3,.2],
[0,1.0,1.5,.3,.2,.1,.1,.3,.2,.3,.2,.5,.3,.2,.3,.2,.5,.6,.5,.4,.3,.2,1.0,.3,.2],
[.1,.6,.7,.3,.2,.1,.1,.3,.2,.1,.3,.2,.3,.2,.3,.4,.3,.5,.4,.3,.2,.3,.2,.3,.4],
[0,.3,.4,.2,.1,.1,.1,.2,.1,.1,.1,.2,.2,.2,.2,.2,.3,.3,.3,.3,.2,.2,.2,.2,.2],
[.1,.2,.3,.2,.1,.1,.1,.2,.1,.1,.1,.1,.1,.1,.1,.2,.2,.2,.2,.2,.2,.2,.2,.2,.2],
[0,.7,.8,.3,.2,.1,.1,.6,.3,.2,.2,.3,.2,.3,.3,.3,.3,.4,.6,.4,.3,.3,.3,.3,.3],
[0,.1,.2,.1,.1,0,0,.1,.1,0,0,.1,.1,.1,.1,.1,.1,.1,.1,.1,.1,.1,.1,.1,.1],
[.1,.9,.8,.3,.2,.1,.1,.4,.3,.3,.3,.4,.3,.3,.4,.4,.5,.5,.6,.4,.4,.3,.3,.3,.3],
[0,.5,.5,.2,.1,.1,.1,.3,.2,.2,.2,.3,.2,.2,.3,.3,.3,.4,.4,.3,.3,.2,.2,.2,.2],
[.1,.3,.3,.2,.1,.1,.1,.2,.1,.1,.1,.2,.1,.1,.2,.2,.2,.2,.3,.2,.2,.2,.2,.2,.2]];
const PLTI_cells=[
[0,2.0,.5,.2,.2,1.0,.3,.2,.3,2.0,.4,.3,.2,1.8,.3,.2,.3,.2,.1,.2,.3,.2,.1,.2,.3],
[.1,1.2,.6,.3,.9,.4,.2,1.2,.4,.4,2.4,.5,.3,.5,.4,1.0,.4,.3,.2,.7,.3,.2,.1,.2,.2],
[0,.8,.4,.3,.2,.3,.2,.5,.5,.6,.8,2.3,.4,.3,.2,.3,.2,1.0,.3,.2,.1,.2,.3,.2,.2],
[.1,.5,.3,.2,.3,.2,.3,.4,.3,.5,.6,.6,.5,.9,.4,.3,.2,.3,.4,.3,.2,.3,.2,.1,.2],
[0,.3,.2,.2,.1,.2,.1,.3,.3,.4,.4,.4,.3,.4,.3,.2,.3,.2,.1,.2,.1,.2,.1,.2,.1],
[.1,.2,.2,.1,.1,.1,.1,.2,.2,.2,.3,.3,.3,.2,.2,.1,.2,.1,.1,.1,.2,.1,.1,.1,.1],
[0,.6,.3,.2,.2,.1,.2,.4,.4,.5,.6,.7,.5,.5,.4,.3,.2,.3,.2,.3,.2,.3,.2,.3,.2],
[0,.1,.1,.1,0,.1,.1,.1,.1,.1,.2,.2,.1,.1,.1,0,.1,.1,0,.1,.1,0,.1,.1,0],
[.1,.9,.4,.3,.3,.3,.3,.5,.4,.6,.7,.6,.5,.6,.4,.4,.3,.4,.3,.3,.3,.2,.2,.2,.2],
[0,.5,.3,.2,.2,.2,.2,.3,.3,.4,.5,.5,.4,.4,.3,.3,.3,.3,.2,.2,.2,.2,.2,.2,.2],
[.1,.3,.2,.1,.1,.1,.1,.2,.2,.2,.3,.3,.3,.2,.2,.2,.2,.2,.1,.1,.1,.1,.1,.1,.1]];
const PLIT_cells=[
[0,2.7,2.0,.3,.2,.2,.1,.3,.2,.4,.5,2.5,.4,.3,.2,.1,.2,.1,.2,1.4,.3,.2,.3,.2,.3],
[.1,2.6,1.0,.3,.2,1.1,.3,.2,.5,1.4,.6,.5,1.5,.4,.3,.2,.1,.2,.3,.8,.3,.2,.1,.2,.3],
[0,1.8,.6,.3,.2,.1,.2,.5,.8,.6,.9,.5,.5,1.4,.4,.3,.2,.1,.2,.6,.3,.2,.3,.4,.8],
[.1,.8,.4,.3,.2,.2,.1,.3,.5,1.0,.6,.7,.5,.4,1.0,.3,.2,.1,.3,.4,.3,.2,.3,.2,.3],
[0,.4,.3,.2,.1,.2,.2,.3,.3,.4,.4,.4,.3,.4,.3,.2,.1,.2,.1,.3,.2,.3,.2,.1,.2],
[.1,.3,.2,.1,.1,.1,.1,.2,.2,.2,.3,.3,.2,.2,.2,.2,.1,.1,.1,.2,.2,.2,.2,.2,.2],
[0,1.2,.5,.2,.2,.2,.2,.4,.4,.5,.5,.6,.5,.5,.4,.3,.2,.2,.2,.5,.3,.3,.3,.3,.3],
[0,.1,.1,.1,.1,.1,.1,.1,.1,.1,.2,.2,.1,.1,.1,.1,.1,.1,.1,.1,.1,.1,.1,.1,.1],
[.1,1.0,.5,.3,.2,.3,.2,.3,.4,.6,.6,.6,.7,.5,.4,.3,.2,.2,.2,.6,.4,.3,.3,.3,.3],
[0,.6,.3,.2,.2,.2,.2,.3,.3,.4,.5,.4,.5,.4,.3,.2,.2,.2,.2,.4,.3,.3,.2,.2,.2],
[.1,.3,.2,.1,.1,.1,.1,.2,.2,.2,.3,.3,.3,.2,.2,.1,.1,.1,.1,.2,.2,.2,.2,.2,.2]];

const meanByOrder = {TILP:TILP_mean,TIPL:TIPL_mean,TLIP:TLIP_mean,TLPI:TLPI_mean,TPIL:TPIL_mean,TPLI:TPLI_mean,
  ITLP:ITLP_mean,ITPL:ITPL_mean,ILTP:ILTP_mean,ILPT:ILPT_mean,IPTL:IPTL_mean,IPLT:IPLT_mean,
  LTIP:LTIP_mean,LTPI:LTPI_mean,LITP:LITP_mean,LIPT:LIPT_mean,LPTI:LPTI_mean,LPIT:LPIT_mean,
  PTIL:PTIL_mean,PTLI:PTLI_mean,PITL:PITL_mean,PILT:PILT_mean,PLTI:PLTI_mean,PLIT:PLIT_mean};
const cellsByOrder = {TILP:TILP_cells,TIPL:TIPL_cells,TLIP:TLIP_cells,TLPI:TLPI_cells,TPIL:TPIL_cells,TPLI:TPLI_cells,
  ITLP:ITLP_cells,ITPL:ITPL_cells,ILTP:ILTP_cells,ILPT:ILPT_cells,IPTL:IPTL_cells,IPLT:IPLT_cells,
  LTIP:LTIP_cells,LTPI:LTPI_cells,LITP:LITP_cells,LIPT:LIPT_cells,LPTI:LPTI_cells,LPIT:LPIT_cells,
  PTIL:PTIL_cells,PTLI:PTLI_cells,PITL:PITL_cells,PILT:PILT_cells,PLTI:PLTI_cells,PLIT:PLIT_cells};

// ---- layout ----
const nCols = 6;
const left0 = 55.3, colStep = 203.4, plotW = 155;
const top0 = 37.6, rowStep = 193.4, plotH = 123.6;
const FONT = "'Liberation Sans', Arial, Helvetica, sans-serif";

const svg = d3.select("#chart");
const defs = svg.append("defs");

orders.forEach((ord, k) => {
  const r = Math.floor(k / nCols), c = k % nCols;
  const x0 = left0 + c * colStep, y0 = top0 + r * rowStep;
  const x = d3.scaleLinear().domain([0, 480]).range([0, plotW]);
  const y = d3.scaleLinear().domain([-0.17, 2.5]).range([plotH, 0]);

  const g = svg.append("g").attr("transform", `translate(${x0},${y0})`);
  const clipId = "clip" + k;
  defs.append("clipPath").attr("id", clipId)
    .append("rect").attr("x", 0).attr("y", 0).attr("width", plotW).attr("height", plotH);

  const plot = g.append("g").attr("clip-path", `url(#${clipId})`);

  // single-cell traces
  const cellLine = d3.line().x((d, i) => x(i * cellStep)).y(d => y(d)).curve(d3.curveMonotoneX);
  plot.append("g").selectAll("path").data(cellsByOrder[ord]).join("path")
    .attr("d", cellLine)
    .attr("fill", "none").attr("stroke", "#8a8a8a").attr("stroke-opacity", 0.5).attr("stroke-width", 1);

  // stimulus times
  plot.append("g").selectAll("line").data(stimTimes).join("line")
    .attr("x1", d => x(d)).attr("x2", d => x(d)).attr("y1", 0).attr("y2", plotH)
    .attr("stroke", "#5a5a5a").attr("stroke-width", 2.6).attr("stroke-dasharray", "9,11");

  // population mean
  const meanLine = d3.line().x((d, i) => x(i * meanStep)).y(d => y(d)).curve(d3.curveMonotoneX);
  plot.append("path").datum(meanByOrder[ord]).attr("d", meanLine)
    .attr("fill", "none").attr("stroke", "#ff0000").attr("stroke-width", 4.5).attr("stroke-linejoin", "round");

  // axes
  const ax = g.append("g").attr("transform", `translate(0,${plotH})`)
    .call(d3.axisBottom(x).tickValues(xTicks).tickFormat(d3.format("d"))
      .tickSizeInner(-4).tickSizeOuter(0).tickPadding(14));
  const ay = g.append("g")
    .call(d3.axisLeft(y).tickValues(yTicks).tickFormat(d3.format("d"))
      .tickSizeInner(-4).tickSizeOuter(0).tickPadding(6));
  [ax, ay].forEach(a => {
    a.select(".domain").attr("stroke", "#7a7a7a").attr("stroke-width", 1.2);
    a.selectAll(".tick line").attr("stroke", "#7a7a7a");
    a.selectAll(".tick text").attr("fill", "#262626")
      .style("font-family", FONT).style("font-size", "21px");
  });
  ax.selectAll(".tick text").style("letter-spacing", "1.5px").attr("dx", "0.75px");

  g.append("text").attr("x", plotW / 2 + 0.8).attr("y", -10).attr("text-anchor", "middle")
    .style("font-family", FONT).style("font-size", "21px").style("font-weight", "bold")
    .style("letter-spacing", "1.5px")
    .text(ord.split("").join(" "));

  if (c === 0) {
    g.append("text").attr("transform", `translate(${-29},${45.4}) rotate(-90)`)
      .attr("text-anchor", "middle").attr("fill", "#262626")
      .attr("textLength", 110).attr("lengthAdjust", "spacingAndGlyphs")
      .style("font-family", FONT).style("font-size", "22px")
      .text("Nuc/Cyto p65");
  }
  if (r === 3) {
    g.append("text").attr("x", plotW / 2 + 3.7).attr("y", 177)
      .attr("text-anchor", "middle").attr("fill", "#262626")
      .attr("textLength", 113).attr("lengthAdjust", "spacingAndGlyphs")
      .style("font-family", FONT).style("font-size", "20px")
      .text("Time (min)");
  }
});
</script></body></html>
